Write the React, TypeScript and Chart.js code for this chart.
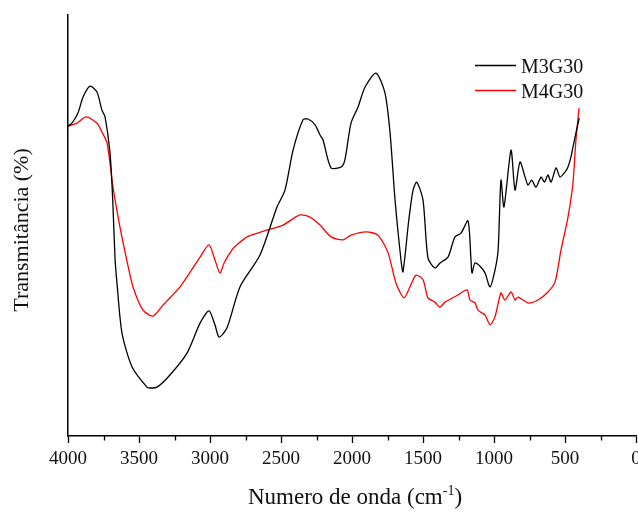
import React, { useEffect, useRef } from "react";
import { Chart, registerables } from "chart.js";

Chart.register(...registerables);

const seriesNames = ["M3G30", "M4G30"];
const seriesColors = ["#000000", "#ff0000"];

const m3g30Wavenumber = [
  4000, 3972, 3930, 3894, 3845, 3796, 3761, 3739, 3704, 3685, 3669, 3655, 3620, 3549, 3444, 3423, 3373,
  3282, 3162, 3070, 3007, 2965, 2936, 2880, 2789, 2648, 2528, 2472, 2415, 2345, 2310, 2260, 2225, 2204,
  2148, 2077, 2050, 2007, 1958, 1908, 1831, 1768, 1732, 1697, 1655, 1641, 1600, 1570, 1544, 1500, 1465,
  1416, 1380, 1324, 1275, 1232, 1183, 1162, 1155, 1134, 1092, 1063, 1028, 993, 971, 951, 930, 880, 852,
  817, 781, 760, 735, 704, 669, 645, 620, 598, 563, 535, 500, 479, 458, 444, 423, 400,
];
const m3g30Transmittance = [
  73.6, 74.3, 76.7, 80.5, 83.1, 81.7, 77.4, 75.8, 67.2, 56.1, 42.3, 36.3, 24.5, 16.4, 11.6, 11.4, 11.6,
  14.5, 19.7, 26.8, 29.7, 26.4, 23.5, 25.7, 35.4, 43.0, 54.4, 58.4, 67.9, 75.1, 75.3, 73.9, 71.5, 70.3,
  63.7, 63.9, 65.6, 74.3, 78.1, 82.9, 86.2, 81.5, 72.0, 56.1, 41.8, 39.0, 51.3, 58.4, 60.3, 56.1, 42.3,
  39.9, 41.1, 42.5, 47.3, 48.2, 51.1, 41.8, 38.7, 41.1, 40.1, 38.7, 35.4, 39.4, 44.2, 60.8, 54.4, 67.9, 58.4,
  65.1, 61.5, 59.6, 60.8, 59.1, 61.5, 60.3, 62.0, 60.3, 63.7, 61.5, 62.7, 63.9, 66.3, 68.6, 72.0, 75.5,
];

const m4g30Wavenumber = [
  4000, 3937, 3873, 3796, 3761, 3725, 3683, 3634, 3585, 3542, 3472, 3401, 3331, 3211, 3070, 3007, 2965,
  2930, 2901, 2845, 2810, 2739, 2599, 2486, 2366, 2296, 2225, 2148, 2063, 2007, 1901, 1817, 1746, 1690,
  1634, 1592, 1549, 1500, 1465, 1416, 1380, 1345, 1254, 1190, 1169, 1134, 1113, 1063, 1028, 993, 951, 923,
  880, 852, 831, 760, 690, 620, 570, 528, 479, 444, 423, 401,
];
const m4g30Transmittance = [
  73.6, 74.3, 75.8, 74.3, 72.2, 69.6, 59.1, 49.6, 41.6, 35.4, 29.9, 28.5, 31.1, 35.4, 42.5, 45.4, 41.8,
  38.7, 41.1, 44.2, 45.4, 47.3, 48.9, 50.1, 52.5, 52.0, 50.1, 47.3, 46.6, 47.7, 48.5, 47.7, 43.5, 36.3,
  32.8, 35.4, 38.2, 37.1, 32.8, 31.8, 30.6, 31.8, 33.5, 34.7, 32.3, 31.6, 29.9, 28.7, 26.4, 28.3, 34.0, 32.3,
  34.2, 32.3, 33.0, 31.6, 32.3, 34.2, 36.6, 44.2, 52.0, 60.1, 70.3, 77.9,
];

const xTickStep = 500;
const xMinorStep = 250;
const xTitleMain = "Numero de onda (cm";
const xTitleSup = "-1";
const xTitleEnd = ")";
const yTitle = "Transmitância (%)";

const FONT = "'Liberation Serif', 'Times New Roman', serif";

const overlayPlugin = {
  id: "overlay",
  afterDraw(chart: any) {
    const ctx = chart.ctx;
    const xs = chart.scales.x;
    const area = chart.chartArea;
    ctx.save();
    // minor ticks
    ctx.strokeStyle = "#000";
    ctx.lineWidth = 1.3;
    for (let v = xs.min; v <= xs.max; v += xMinorStep) {
      if (v % xTickStep === 0) continue;
      const px = Math.round(xs.getPixelForValue(v)) + 0.5;
      ctx.beginPath();
      ctx.moveTo(px, area.bottom);
      ctx.lineTo(px, area.bottom + 4.5);
      ctx.stroke();
    }
    // y title
    ctx.fillStyle = "#111";
    ctx.font = `22px ${FONT}`;
    ctx.textAlign = "center";
    ctx.textBaseline = "middle";
    ctx.save();
    ctx.translate(22, 230);
    ctx.rotate(-Math.PI / 2);
    ctx.fillText(yTitle, 0, 0);
    ctx.restore();
    // x title with superscript
    ctx.textAlign = "left";
    ctx.textBaseline = "alphabetic";
    const mainFont = `23px ${FONT}`;
    const supFont = `14px ${FONT}`;
    ctx.font = mainFont;
    const w1 = ctx.measureText(xTitleMain).width;
    const w3 = ctx.measureText(xTitleEnd).width;
    ctx.font = supFont;
    const w2 = ctx.measureText(xTitleSup).width;
    const total = w1 + w2 + w3;
    const cx = 355;
    const base = 504;
    let x0 = cx - total / 2;
    ctx.font = mainFont;
    ctx.fillText(xTitleMain, x0, base);
    ctx.font = supFont;
    ctx.fillText(xTitleSup, x0 + w1, base - 9);
    ctx.font = mainFont;
    ctx.fillText(xTitleEnd, x0 + w1 + w2, base);
    // legend
    const ds = chart.data.datasets;
    ctx.font = `20px ${FONT}`;
    ctx.textBaseline = "alphabetic";
    for (let i = 0; i < ds.length; i++) {
      const ly = 65.5 + i * 25;
      ctx.strokeStyle = ds[i].borderColor;
      ctx.lineWidth = 1.3;
      ctx.beginPath();
      ctx.moveTo(475, ly);
      ctx.lineTo(516, ly);
      ctx.stroke();
      ctx.fillStyle = "#111";
      ctx.fillText(ds[i].label, 521, ly + 7.5);
    }
    ctx.restore();
  },
};

export default function App() {
  const ref = useRef<HTMLCanvasElement | null>(null);
  useEffect(() => {
    const canvas = ref.current;
    if (!canvas) return;
    const mk = (wn: number[], t: number[]) => wn.map((w, i) => ({ x: w, y: t[i] }));
    const chart = new Chart(canvas, {
      type: "line",
      data: {
        datasets: [
          {
            label: seriesNames[0],
            data: mk(m3g30Wavenumber, m3g30Transmittance),
            borderColor: seriesColors[0],
            borderWidth: 1.3,
            pointRadius: 0,
            tension: 0.25,
            fill: false,
          },
          {
            label: seriesNames[1],
            data: mk(m4g30Wavenumber, m4g30Transmittance),
            borderColor: seriesColors[1],
            borderWidth: 1.3,
            pointRadius: 0,
            tension: 0.25,
            fill: false,
          },
        ],
      },
      options: {
        responsive: false,
        animation: false,
        devicePixelRatio: 1,
        layout: { padding: { top: 15, right: 24, left: 0, bottom: 0 } },
        plugins: { legend: { display: false }, tooltip: { enabled: false } },
        scales: {
          x: {
            type: "linear",
            min: 0,
            max: 4000,
            reverse: true,
            afterFit: (s: any) => {
              s.height = 76;
            },
            ticks: {
              stepSize: xTickStep,
              color: "#111",
              font: { family: FONT, size: 19 },
              padding: 5,
              maxRotation: 0,
              autoSkip: false,
              callback: (v: any) => String(v),
            },
            grid: {
              display: true,
              drawOnChartArea: false,
              drawTicks: true,
              tickLength: 7,
              tickColor: "#000",
              tickWidth: 1.3,
            },
            border: { display: true, color: "#000", width: 1.5 },
          },
          y: {
            type: "linear",
            min: 0,
            max: 100,
            afterFit: (s: any) => {
              s.width = 68;
            },
            ticks: { display: false },
            grid: { display: false, drawTicks: false },
            border: { display: true, color: "#000", width: 1.5 },
          },
        },
      },
      plugins: [overlayPlugin],
    });
    return () => chart.destroy();
  }, []);
  return (
    <div style={{ position: "fixed", left: 0, top: 0, width: 638, height: 512, overflow: "hidden", background: "#fff" }}>
      <canvas ref={ref} width={660} height={512} style={{ display: "block" }} />
    </div>
  );
}
